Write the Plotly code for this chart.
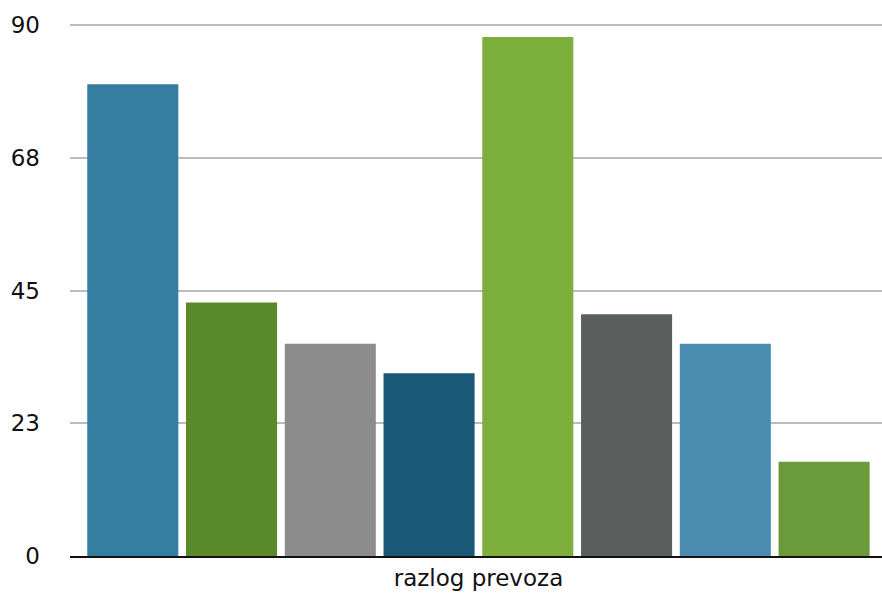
import plotly.graph_objects as go

category = ["razlog prevoza"]
series_names = ["S1", "S2", "S3", "S4", "S5", "S6", "S7", "S8"]
values = [80, 43, 36, 31, 88, 41, 36, 16]
colors = ["#357EA1", "#5A8A2A", "#8C8C8C", "#1B5878", "#7DAF3D", "#5A5F5E", "#4A8DB0", "#6A9A3A"]
tick_vals = [0, 22.5, 45, 67.5, 90]
tick_text = ["0", "23", "45", "68", "90"]

fig = go.Figure()
for n, v, c in zip(series_names, values, colors):
    fig.add_trace(go.Bar(x=category, y=[v], name=n, marker=dict(color=c, line=dict(width=0))))

fig.update_layout(
    width=882, height=596,
    margin=dict(l=70, r=0, t=24, b=40),
    barmode="group", bargap=0.027, bargroupgap=0.078,
    showlegend=False,
    plot_bgcolor="white", paper_bgcolor="white",
    font=dict(family="DejaVu Sans", size=23, color="#111111"),
    xaxis=dict(range=[-0.503, 0.497], showgrid=False, showline=True, linecolor="#111111", linewidth=2,
               ticks="", tickfont=dict(size=23)),
    yaxis=dict(range=[0, 90.2], tickvals=tick_vals, ticktext=tick_text,
               showgrid=True, gridcolor="#BBBBBB", gridwidth=2,
               zeroline=False, showline=False, ticks="", ticklabelstandoff=29,
               tickfont=dict(size=23)),
)
fig.write_html("out.html")
